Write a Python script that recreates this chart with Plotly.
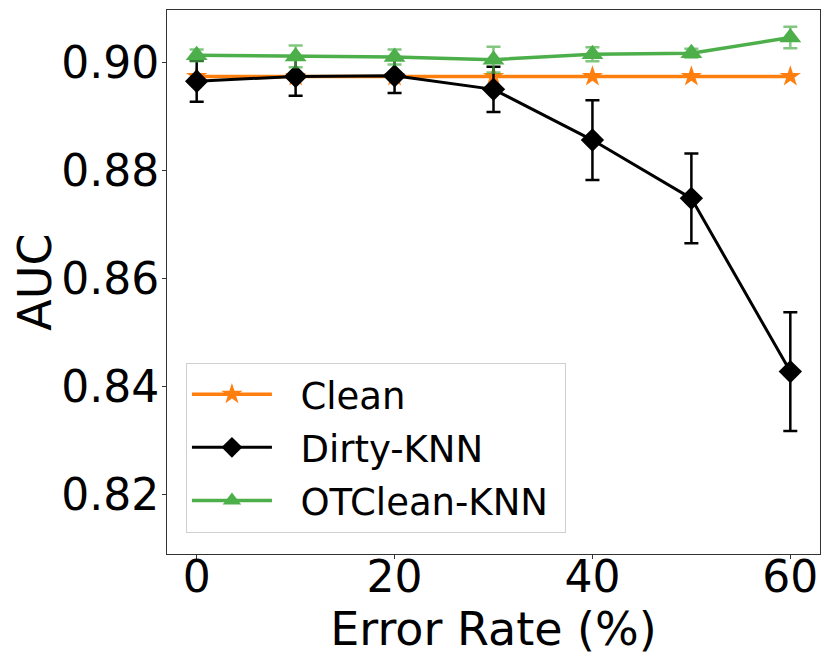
import plotly.graph_objects as go

error_rate = [0, 10, 20, 30, 40, 50, 60]
clean_auc = [0.8974, 0.8974, 0.8974, 0.8974, 0.8974, 0.8974, 0.8974]
dirty_auc = [0.8965, 0.8974, 0.8975, 0.8950, 0.8856, 0.8748, 0.8427]
dirty_err = [0.0038, 0.0036, 0.0032, 0.0042, 0.0074, 0.0083, 0.0110]
ot_auc = [0.9013, 0.9011, 0.9010, 0.9005, 0.9015, 0.9017, 0.9046]
ot_err = [0.0011, 0.0020, 0.0014, 0.0024, 0.0013, 0.0008, 0.0020]

FONT = "DejaVu Sans"
ORANGE = "#ff7f0e"
GREEN = "#4daf4a"
PAD = "\u00a0\u00a0"

fig = go.Figure()
fig.add_trace(go.Scatter(
    x=error_rate, y=clean_auc, name=PAD + "Clean", mode="lines+markers",
    line=dict(color=ORANGE, width=3.5),
    marker=dict(symbol="star", size=16, color=ORANGE),
    legendgroup="a",
))
fig.add_trace(go.Scatter(
    x=error_rate, y=dirty_auc, name=PAD + "Dirty-KNN", mode="lines+markers",
    line=dict(color="black", width=3),
    marker=dict(symbol="diamond", size=18, color="black"),
    error_y=dict(type="data", array=dirty_err, visible=True, color="black", thickness=2.5, width=7),
    legendgroup="b",
))
fig.add_trace(go.Scatter(
    x=error_rate, y=ot_auc, name=PAD + "OTClean-KNN" + "\u00a0", mode="lines+markers",
    line=dict(color=GREEN, width=3.5),
    marker=dict(symbol="triangle-up", size=19, color=GREEN),
    error_y=dict(type="data", array=ot_err, visible=True, color="rgba(77,175,74,0.7)", thickness=2.5, width=7),
    legendgroup="c",
))

# page body has an 8px default margin, so the figure is offset by 8px
fig.update_layout(
    width=822, height=656,
    margin=dict(l=159, r=10, t=2, b=110),
    plot_bgcolor="white", paper_bgcolor="white",
    font=dict(family=FONT, color="black"),
    showlegend=True,
    legend=dict(
        x=0.029, y=0.3517, xanchor="left", yanchor="top",
        font=dict(family=FONT, size=37, color="black"),
        bordercolor="#d0d0d0", borderwidth=1, bgcolor="rgba(255,255,255,0.8)",
        itemwidth=80, tracegroupgap=2, traceorder="grouped",
    ),
    xaxis=dict(
        range=[-3, 63], tickvals=[0, 20, 40, 60],
        showgrid=False, zeroline=False, automargin=False,
        showline=True, mirror=True, linecolor="#333", linewidth=1,
        ticks="outside", ticklen=4, tickcolor="#333",
        tickfont=dict(family=FONT, size=44), ticklabelstandoff=-20,
        title=dict(text="Error Rate (%)", font=dict(family=FONT, size=46), standoff=1),
    ),
    yaxis=dict(
        range=[0.8089, 0.9097], tickvals=[0.82, 0.84, 0.86, 0.88, 0.90],
        ticktext=["0.82", "0.84", "0.86", "0.88", "0.90"],
        showgrid=False, zeroline=False, automargin=False,
        showline=True, mirror=True, linecolor="#333", linewidth=1,
        ticks="outside", ticklen=4, tickcolor="#333",
        tickfont=dict(family=FONT, size=44), ticklabelstandoff=-6,
        title=dict(text="AUC", font=dict(family=FONT, size=46), standoff=5),
    ),
)

fig.write_html("out.html")
